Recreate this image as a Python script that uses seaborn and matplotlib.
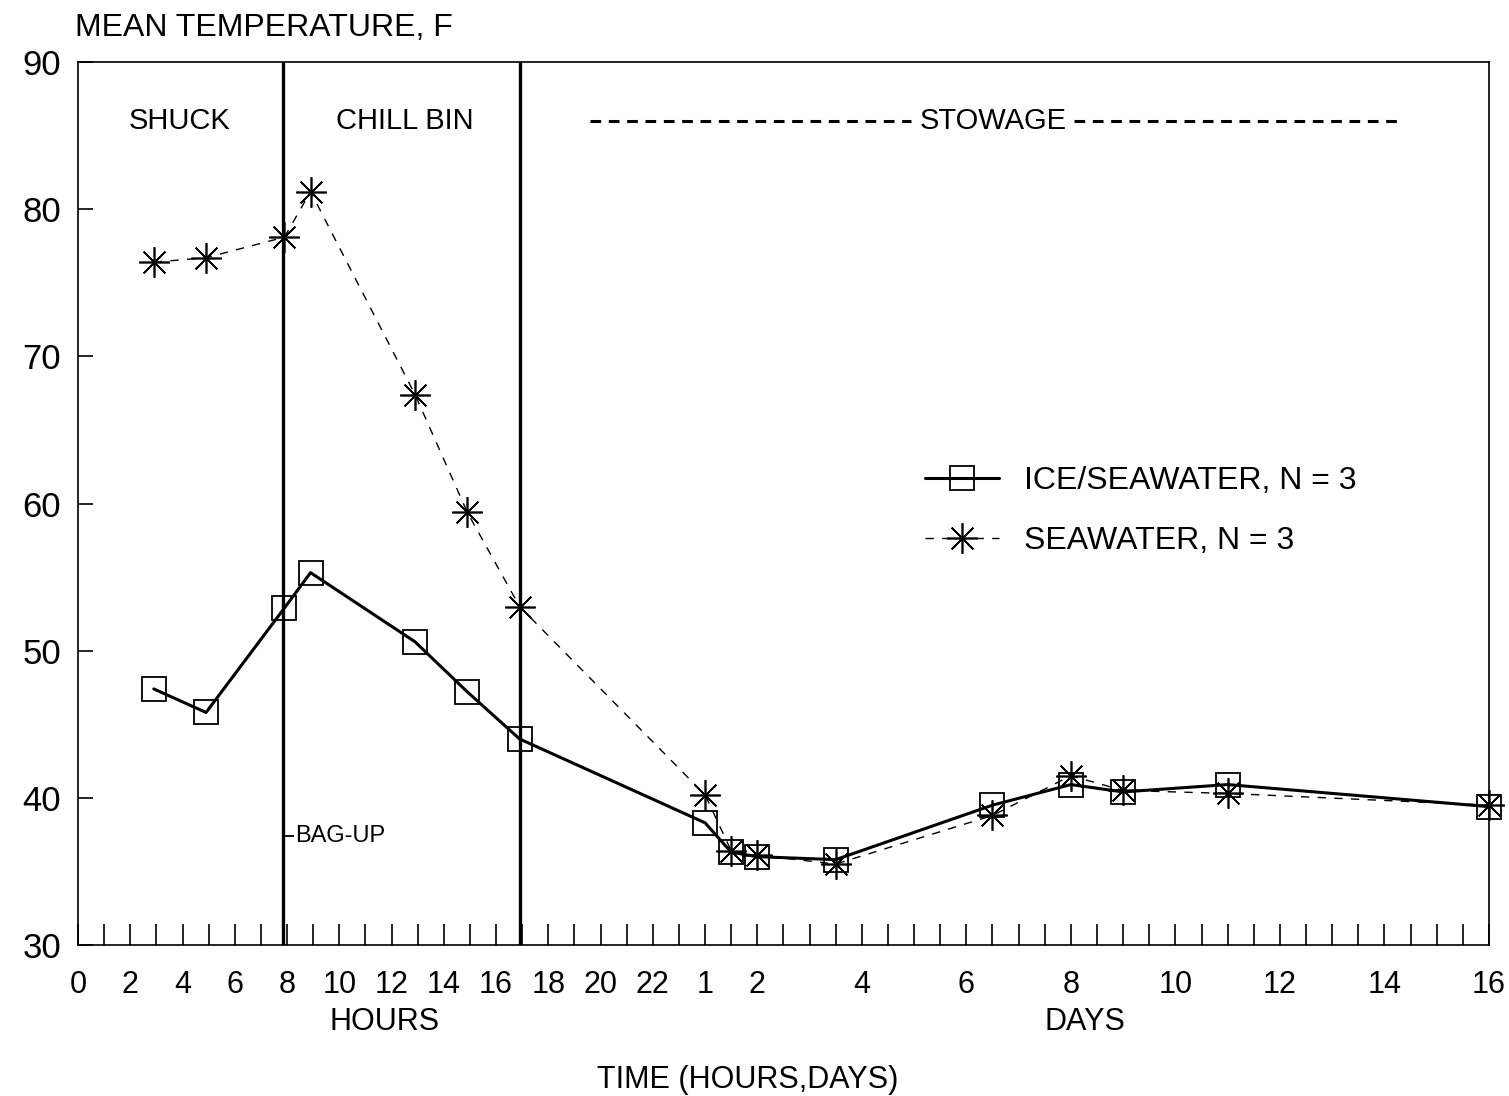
import numpy as np
import pandas as pd
import matplotlib
matplotlib.use("Agg")
import matplotlib.pyplot as plt
import seaborn as sns
from matplotlib.lines import Line2D

# ---------------- data ----------------
hour_points = [2.9, 4.9, 7.9, 8.9, 12.9, 14.9, 16.9]          # hours
day_points = [1, 1.5, 2, 3.5, 6.5, 8, 9, 11, 16]               # days
ice_seawater = [47.4, 45.8, 52.9, 55.3, 50.6, 47.2, 44.0,
                38.3, 36.3, 36.0, 35.8, 39.5, 40.9, 40.4, 40.9, 39.4]
seawater = [76.4, 76.7, 78.1, 81.2, 67.4, 59.4, 53.0,
            40.2, 36.4, 36.1, 35.5, 38.8, 41.5, 40.5, 40.3, 39.5]
series_names = ["ICE/SEAWATER, N = 3", "SEAWATER, N = 3"]
hour_ticks = [0, 2, 4, 6, 8, 10, 12, 14, 16, 18, 20, 22]
day_ticks = [1, 2, 4, 6, 8, 10, 12, 14, 16]
y_ticks = [30, 40, 50, 60, 70, 80, 90]
phase_bounds_h = [7.85, 16.9]
phase_labels = ["SHUCK", "CHILL BIN", "STOWAGE"]

time_h = hour_points + [24 * d for d in day_points]
df = pd.DataFrame({
    "time": time_h * 2,
    "temp": ice_seawater + seawater,
    "series": [series_names[0]] * len(time_h) + [series_names[1]] * len(time_h),
})


# axis scale: 1 unit per hour up to 24 h, then 1 unit per half day
def fwd(h):
    h = np.asarray(h, dtype=float)
    return np.where(h <= 24, h, 24 + (h - 24) / 12.0)


def inv(u):
    u = np.asarray(u, dtype=float)
    return np.where(u <= 24, u, 24 + (u - 24) * 12.0)


sns.set_theme(style="white")
plt.rcParams["font.family"] = ["Liberation Sans", "DejaVu Sans"]
plt.rcParams.update({
    "axes.edgecolor": "black", "axes.linewidth": 1.2,
    "text.color": "black", "xtick.color": "black", "ytick.color": "black",
    "axes.labelcolor": "black",
})

fig = plt.figure(figsize=(15.09, 10.96), dpi=100)
ax = fig.add_axes([0.0517, 0.1378, 0.935, 0.8056])
ax.set_xscale("function", functions=(fwd, inv))

sub_ice = df[df["series"] == series_names[0]]
sub_sea = df[df["series"] == series_names[1]]
sns.lineplot(data=sub_sea, x="time", y="temp", ax=ax, color="black",
             lw=1.0, linestyle=(0, (6, 6)), marker=(8, 2, 0), ms=22,
             mec="black", mew=1.2, errorbar=None, legend=False, clip_on=False)
sns.lineplot(data=sub_ice, x="time", y="temp", ax=ax, color="black",
             lw=2.2, marker="s", ms=17, mfc="none", mec="black", mew=1.3,
             errorbar=None, legend=False, clip_on=False)

for b in phase_bounds_h:
    ax.axvline(b, color="black", lw=2.4, zorder=1)

ax.set_yticks(y_ticks)
ax.set_yticklabels([str(v) for v in y_ticks], fontsize=25)
major_x = hour_ticks + [24 * d for d in day_ticks]
ax.set_xticks(major_x)
ax.set_xticklabels([str(v) for v in hour_ticks] + [str(d) for d in day_ticks],
                   fontsize=22)
minor_x = list(range(0, 25)) + [24 + 12 * k for k in range(1, 31)]
ax.set_xticks(minor_x, minor=True)
ax.set_xlim(0, 384)
ax.set_ylim(30, 90)
ax.tick_params(axis="x", which="both", direction="in", length=15, width=1.2,
               pad=18, color="black", bottom=True, top=False)
ax.tick_params(axis="y", which="major", direction="in", length=11, width=1.2,
               pad=12, color="black", left=True, right=False)
ax.set_xlabel("")
ax.set_ylabel("")
for s in ax.spines.values():
    s.set_color("black")
    s.set_linewidth(1.2)

# phase labels
ax.text(0.072, 0.933, phase_labels[0], transform=ax.transAxes, ha="center",
        va="center", fontsize=21)
ax.text(0.2316, 0.933, phase_labels[1], transform=ax.transAxes, ha="center",
        va="center", fontsize=21)
ax.text(0.649, 0.933, phase_labels[2], transform=ax.transAxes, ha="center",
        va="center", fontsize=21)
ax.plot([0.3626, 0.5907], [0.933, 0.933], transform=ax.transAxes, color="black",
        lw=2.2, linestyle=(0, (3.5, 2.5)))
ax.plot([0.706, 0.936], [0.933, 0.933], transform=ax.transAxes, color="black",
        lw=2.2, linestyle=(0, (3.5, 2.5)))

# bag-up marker
ax.plot([phase_bounds_h[0]], [37.4], marker=1, ms=8, mew=1.3, color="black")
ax.text(8.3, 37.4, "BAG-UP", ha="left", va="center", fontsize=17)

# legend
handles = [
    Line2D([], [], color="black", lw=2.2, marker="s", ms=17, mfc="none",
           mec="black", mew=1.3),
    Line2D([], [], color="black", lw=1.0, linestyle=(0, (6, 6)),
           marker=(8, 2, 0), ms=22, mec="black", mew=1.2),
]
ax.legend(handles, series_names, loc="upper left",
          bbox_to_anchor=(0.58, 0.575), frameon=False, fontsize=23,
          handlelength=2.3, handletextpad=0.8, labelspacing=0.95)

# figure-level labels
fig.text(0.0497, 0.9745, "MEAN TEMPERATURE, F", ha="left", va="center",
         fontsize=23)
fig.text(0.255, 0.0675, "HOURS", ha="center", va="center", fontsize=22)
fig.text(0.719, 0.0675, "DAYS", ha="center", va="center", fontsize=22)
fig.text(0.4957, 0.0146, "TIME (HOURS,DAYS)", ha="center", va="center",
         fontsize=22)

fig.savefig("out.png", dpi=100, facecolor="white")
